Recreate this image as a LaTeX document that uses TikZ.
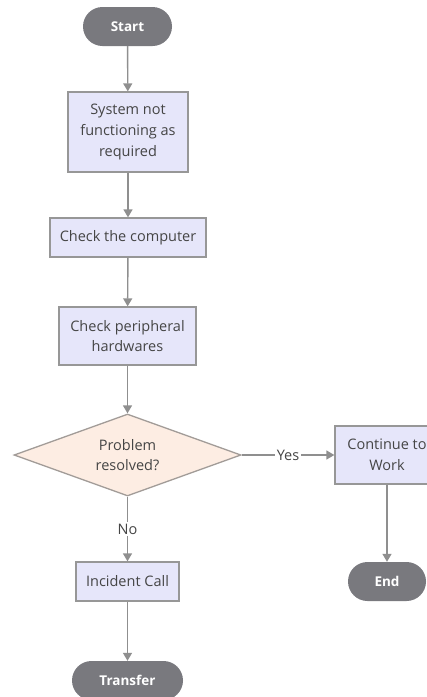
\documentclass[tikz,border=0pt]{standalone}
\usepackage{fontspec}
\setmainfont{Open Sans}
\usetikzlibrary{shapes.geometric,arrows.meta}

\definecolor{boxfill}{HTML}{E6E6FA}
\definecolor{boxline}{HTML}{979797}
\definecolor{decfill}{HTML}{FDEDE3}
\definecolor{decline}{HTML}{A29C98}
\definecolor{termfill}{HTML}{79797E}
\definecolor{txt}{HTML}{454545}
\definecolor{flow}{HTML}{8F8F8F}

\tikzset{
  base/.style={font=\fontsize{14.5}{20.7}\selectfont, text=txt, align=center, inner sep=0pt},
  procbox/.style={base, rectangle, draw=boxline, fill=boxfill, line width=1.3pt},
  termbox/.style={base, rectangle, rounded corners=19.5pt, fill=termfill, text=white,
    font=\fontsize{13.5}{20.5}\selectfont\bfseries, minimum height=39pt},
  decbox/.style={base, diamond, aspect=2.77, draw=decline, fill=decfill, line width=1.3pt},
  flowline/.style={draw=flow, line width=1.4pt, -{Triangle[width=9pt,length=8pt]}},
  edgelabel/.style={base, fill=white, inner sep=1.5pt}
}

\begin{document}
\begin{tikzpicture}[x=1pt, y=-1pt]
  \clip (0,0) rectangle (427,697);
  \fill[white] (0,0) rectangle (427,697);

  % main column
  \node[termbox, minimum width=89pt] (start) at (127.5,26.5) {Start};
  \node[procbox, minimum width=120pt, minimum height=80pt] (sys) at (128,132)
    {System not\\functioning as\\required};
  \node[procbox, minimum width=156pt, minimum height=39pt] (comp) at (128,237.5)
    {Check the computer};
  \node[procbox, minimum width=137pt, minimum height=58pt] (peri) at (127.5,336)
    {Check peripheral\\hardwares};
  \node[decbox, minimum width=227pt, minimum height=82pt] (dec) at (127.5,455)
    {Problem\\resolved?};
  \node[procbox, minimum width=103pt, minimum height=39pt] (inc) at (127.5,581.5)
    {Incident Call};
  \node[termbox, minimum width=111pt] (trans) at (127.5,680.5) {Transfer};

  % right branch
  \node[procbox, minimum width=104pt, minimum height=58pt] (cont) at (387,455)
    {Continue to\\Work};
  \node[termbox, minimum width=78pt] (fin) at (387,581.5) {End};

  % connectors
  \draw[flowline] (start) -- (sys);
  \draw[flowline] (sys) -- (comp);
  \draw[flowline] (comp) -- (peri);
  \draw[flowline] (peri) -- (dec);
  \draw[flowline] (dec) -- node[edgelabel] {No} (inc);
  \draw[flowline] (inc) -- (trans);
  \draw[flowline] (dec.east) -- node[edgelabel] {Yes} (cont.west);
  \draw[flowline] (cont) -- (fin);
\end{tikzpicture}
\end{document}
